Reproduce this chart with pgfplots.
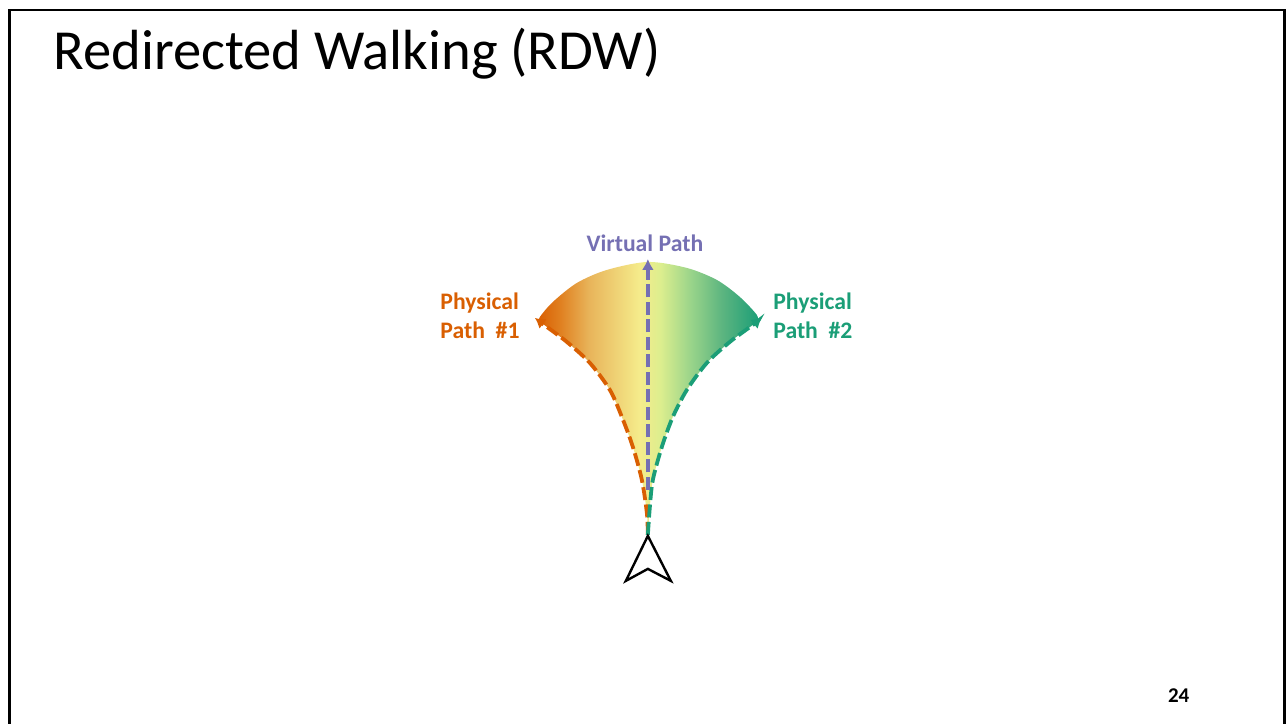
\documentclass[border=0pt]{standalone}
\usepackage{fontspec}
\setmainfont{Carlito}
\usepackage{pgfplots}
\pgfplotsset{compat=1.18}
\usetikzlibrary{arrows.meta}
\definecolor{orangeP}{HTML}{D95F02}
\definecolor{greenP}{HTML}{1B9E77}
\definecolor{purpleP}{HTML}{7570B3}
\definecolor{fanA}{RGB}{224,128,32}
\definecolor{fanB}{RGB}{232,180,90}
\definecolor{fanC}{RGB}{245,236,140}
\definecolor{fanD}{RGB}{220,238,142}
\definecolor{fanE}{RGB}{154,212,138}
\definecolor{fanF}{RGB}{93,181,128}
% stops between 25bp and 75bp span the width of the fan
\pgfdeclarehorizontalshading{fan}{100bp}{
  color(0bp)=(orangeP);
  color(25bp)=(orangeP);
  color(30bp)=(fanA);
  color(36.5bp)=(fanB);
  color(48bp)=(fanC);
  color(52.7bp)=(fanD);
  color(59.5bp)=(fanE);
  color(66.5bp)=(fanF);
  color(75bp)=(greenP);
  color(100bp)=(greenP)}
\tikzset{pathdash/.style={line width=3.8pt, dash pattern=on 13pt off 4.5pt}}
\begin{document}
\begin{tikzpicture}
\begin{axis}[
  width=1286pt, height=724pt, scale only axis,
  xmin=0, xmax=1286, ymin=0, ymax=724,
  y dir=reverse, hide axis, clip=false,
]
% keeps the page at full size
\addplot[draw=white, line width=0pt] coordinates {(0,0) (1286,724)};
% slide frame
\addplot[black, line width=2.6pt] coordinates {(9.5,724) (9.5,10) (1285,10) (1285,724)};
% fan
\addplot[smooth, shading=fan, draw=none] coordinates {
  (648,535) (647,513) (642,480) (633,447) (622,417) (610,390) (590,363) (567,342) (547,327) (540,321)
  (540,317) (553,302) (577,283) (607,270) (648,262) (687,268) (717,280) (740,297) (757,315)
  (757,321) (753,325) (730,342) (707,363) (687,390) (673,417) (662,447) (653,480) (650,507) (648,535)
} -- cycle;
% physical paths and virtual path
\addplot[smooth, orangeP, pathdash, -{Latex[length=10pt,width=12pt]}] coordinates {
  (648,535) (647,513) (642,480) (633,447) (622,417) (610,390) (590,363) (567,342) (547,327) (535,318)};
\addplot[smooth, greenP, pathdash, -{Latex[length=10pt,width=12pt]}] coordinates {
  (648,535) (650,507) (653,480) (662,447) (673,417) (687,390) (707,363) (730,342) (753,325) (762,318)};
\addplot[purpleP, pathdash, -{Latex[length=11pt,width=12pt]}] coordinates {(648,490) (648,259)};
% avatar
\addplot[black, line width=2.4pt, miter limit=10, fill=white] coordinates {
  (648,536) (671,581) (648,569) (626,581)} -- cycle;
\node[anchor=base west, font=\fontsize{56.6}{60}\selectfont] at (axis cs:50,70) {Redirected Walking (RDW)};
\node[anchor=base, font=\fontsize{23.7}{28}\selectfont\bfseries, text=purpleP] at (axis cs:645,252) {Virtual Path};
\node[anchor=west, align=left, font=\fontsize{23.7}{29}\selectfont\bfseries, text=orangeP] at (axis cs:437,316) {Physical\\Path\ \ \#1};
\node[anchor=west, align=left, font=\fontsize{23.7}{29}\selectfont\bfseries, text=greenP] at (axis cs:770,316) {Physical\\Path\ \ \#2};
\node[anchor=base, font=\fontsize{21}{24}\selectfont\bfseries] at (axis cs:1179,703) {24};
\end{axis}
\end{tikzpicture}
\end{document}
